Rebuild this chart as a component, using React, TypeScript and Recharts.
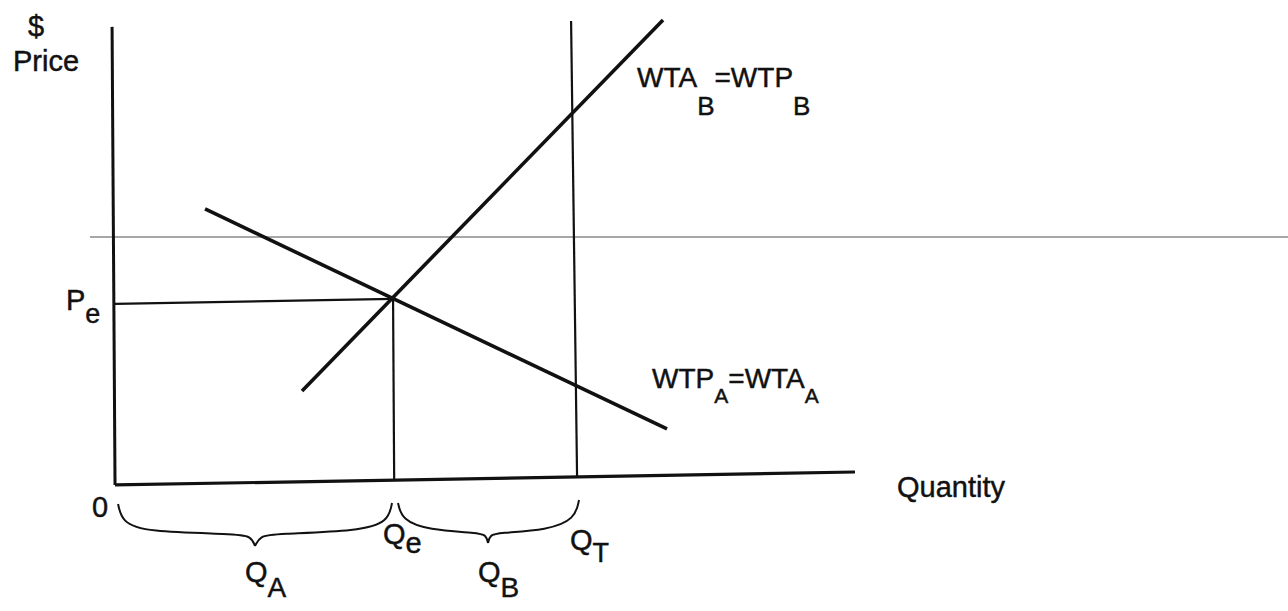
import React from 'react';
import { ComposedChart, Line, Scatter, XAxis, YAxis } from 'recharts';

// quantity / price units
const priceAxis = [
  { q: -0.36, p: 100.1 },
  { q: 0.04, p: -0.44 },
];
const quantityAxis = [
  { q: 0.04, p: -0.44 },
  { q: 100.0, p: 2.41 },
];
const wtpA = [
  { q: 12.2, p: 60.14 },
  { q: 74.61, p: 11.85 },
];
const wtaB = [
  { q: 25.3, p: 20.19 },
  { q: 74.07, p: 101.62 },
];
const peLine = [
  { q: 0.04, p: 39.29 },
  { q: 37.6, p: 40.4 },
];
const qeLine = [
  { q: 37.6, p: 40.4 },
  { q: 37.75, p: 0.66 },
];
const qtLine = [
  { q: 61.65, p: 101.4 },
  { q: 62.46, p: 1.32 },
];
// faint horizontal rule left by the scanner
const scanRule = [
  { q: -3.34, p: 54.0 },
  { q: 158.5, p: 54.0 },
];

// curly braces under the quantity axis (two halves each)
const braceALeft = [
  { q: 0.45, p: -4.61 }, { q: 0.99, p: -8.56 }, { q: 4.09, p: -10.75 },
  { q: 16.25, p: -11.19 }, { q: 18.41, p: -11.63 }, { q: 18.95, p: -13.83 },
];
const braceARight = [
  { q: 18.95, p: -13.83 }, { q: 19.63, p: -11.63 }, { q: 21.66, p: -11.19 },
  { q: 33.14, p: -10.53 }, { q: 36.92, p: -8.56 }, { q: 37.46, p: -4.39 },
];
const braceBLeft = [
  { q: 38.27, p: -4.39 }, { q: 38.81, p: -8.12 }, { q: 42.33, p: -10.32 },
  { q: 49.08, p: -10.97 }, { q: 50.16, p: -11.41 }, { q: 50.43, p: -13.17 },
];
const braceBRight = [
  { q: 50.43, p: -13.17 }, { q: 50.7, p: -11.41 }, { q: 51.78, p: -10.97 },
  { q: 58.54, p: -10.32 }, { q: 62.18, p: -7.9 }, { q: 62.72, p: -3.73 },
];

// text labels: "_x" marks a subscript
const labelTexts = ['$', 'Price', 'P_e', '0', 'Quantity', 'Q_e', 'Q_T', 'Q_A', 'Q_B', 'WTA_B=WTP_B', 'WTP_A=WTA_A'];
const labelQ = [-11.71, -13.74, -6.58, -3.07, 105.68, 36.24, 61.51, 17.6, 49.08, 70.56, 72.59];
const labelP = [98.11, 90.42, 37.97, -7.46, -3.07, -13.39, -14.71, -21.73, -21.73, 86.91, 20.85];

const labels = labelTexts.map((text, i) => ({ q: labelQ[i], p: labelP[i], text }));

const FONT = '"Liberation Sans", Arial, Helvetica, sans-serif';
const INK = '#111';
const MAIN_SIZE = 29;

const SUB_STYLE: Record<string, { dy: number; size: number }> = {
  P_e: { dy: 13, size: 27 },
  Q_e: { dy: 9, size: 29 },
  Q_T: { dy: 12, size: 27 },
  Q_A: { dy: 15, size: 28 },
  Q_B: { dy: 15, size: 28 },
  'WTA_B=WTP_B': { dy: 28, size: 26 },
  'WTP_A=WTA_A': { dy: 15, size: 21 },
};

const MAIN_OVERRIDE: Record<string, number> = {
  'WTA_B=WTP_B': 28,
  'WTP_A=WTA_A': 28,
};

function LabelShape(props: any) {
  const { cx, cy, payload } = props;
  if (cx == null || cy == null) return null;
  const text: string = payload.text;
  const parts = text.split(/_(\w)/);
  const sub = SUB_STYLE[text] ?? { dy: 0, size: MAIN_SIZE };
  const main = MAIN_OVERRIDE[text] ?? MAIN_SIZE;
  return (
    <text
      x={cx}
      y={cy}
      fill={INK}
      stroke={INK}
      strokeWidth={0.45}
      fontFamily={FONT}
      fontSize={main}
    >
      {parts.map((part, i) => {
        if (part === '') return null;
        const isSub = i % 2 === 1;
        const dy = isSub ? sub.dy : i > 0 ? -sub.dy : 0;
        return (
          <tspan key={i} dy={dy} fontSize={isSub ? sub.size : main}>
            {part}
          </tspan>
        );
      })}
    </text>
  );
}

export default function App() {
  const line = (data: any[], width: number, key: string, color = INK, type: any = 'linear') => (
    <Line
      key={key}
      data={data}
      dataKey="p"
      type={type}
      stroke={color}
      strokeWidth={width}
      dot={false}
      activeDot={false}
      isAnimationActive={false}
      legendType="none"
    />
  );

  return (
    <div style={{ position: 'absolute', left: 0, top: 0, background: '#fff' }}>
      <ComposedChart width={1288} height={611} margin={{ top: 0, right: 0, bottom: 0, left: 0 }}>
        <XAxis type="number" dataKey="q" domain={[-15.5, 158.5]} hide allowDataOverflow />
        <YAxis type="number" dataKey="p" domain={[-28.1, 106]} hide allowDataOverflow />
        {line(scanRule, 1.5, 'rule', '#8a8a8a')}
        {line(priceAxis, 3, 'yaxis')}
        {line(quantityAxis, 3.2, 'xaxis')}
        {line(peLine, 2.2, 'pe')}
        {line(qeLine, 2.2, 'qe')}
        {line(qtLine, 2.2, 'qt')}
        {line(wtpA, 3.6, 'wtpA')}
        {line(wtaB, 3.6, 'wtaB')}
        {line(braceALeft, 2, 'b1l', INK, 'basis')}
        {line(braceARight, 2, 'b1r', INK, 'basis')}
        {line(braceBLeft, 2, 'b2l', INK, 'basis')}
        {line(braceBRight, 2, 'b2r', INK, 'basis')}
        <Scatter data={labels} shape={<LabelShape />} isAnimationActive={false} legendType="none" />
      </ComposedChart>
    </div>
  );
}
